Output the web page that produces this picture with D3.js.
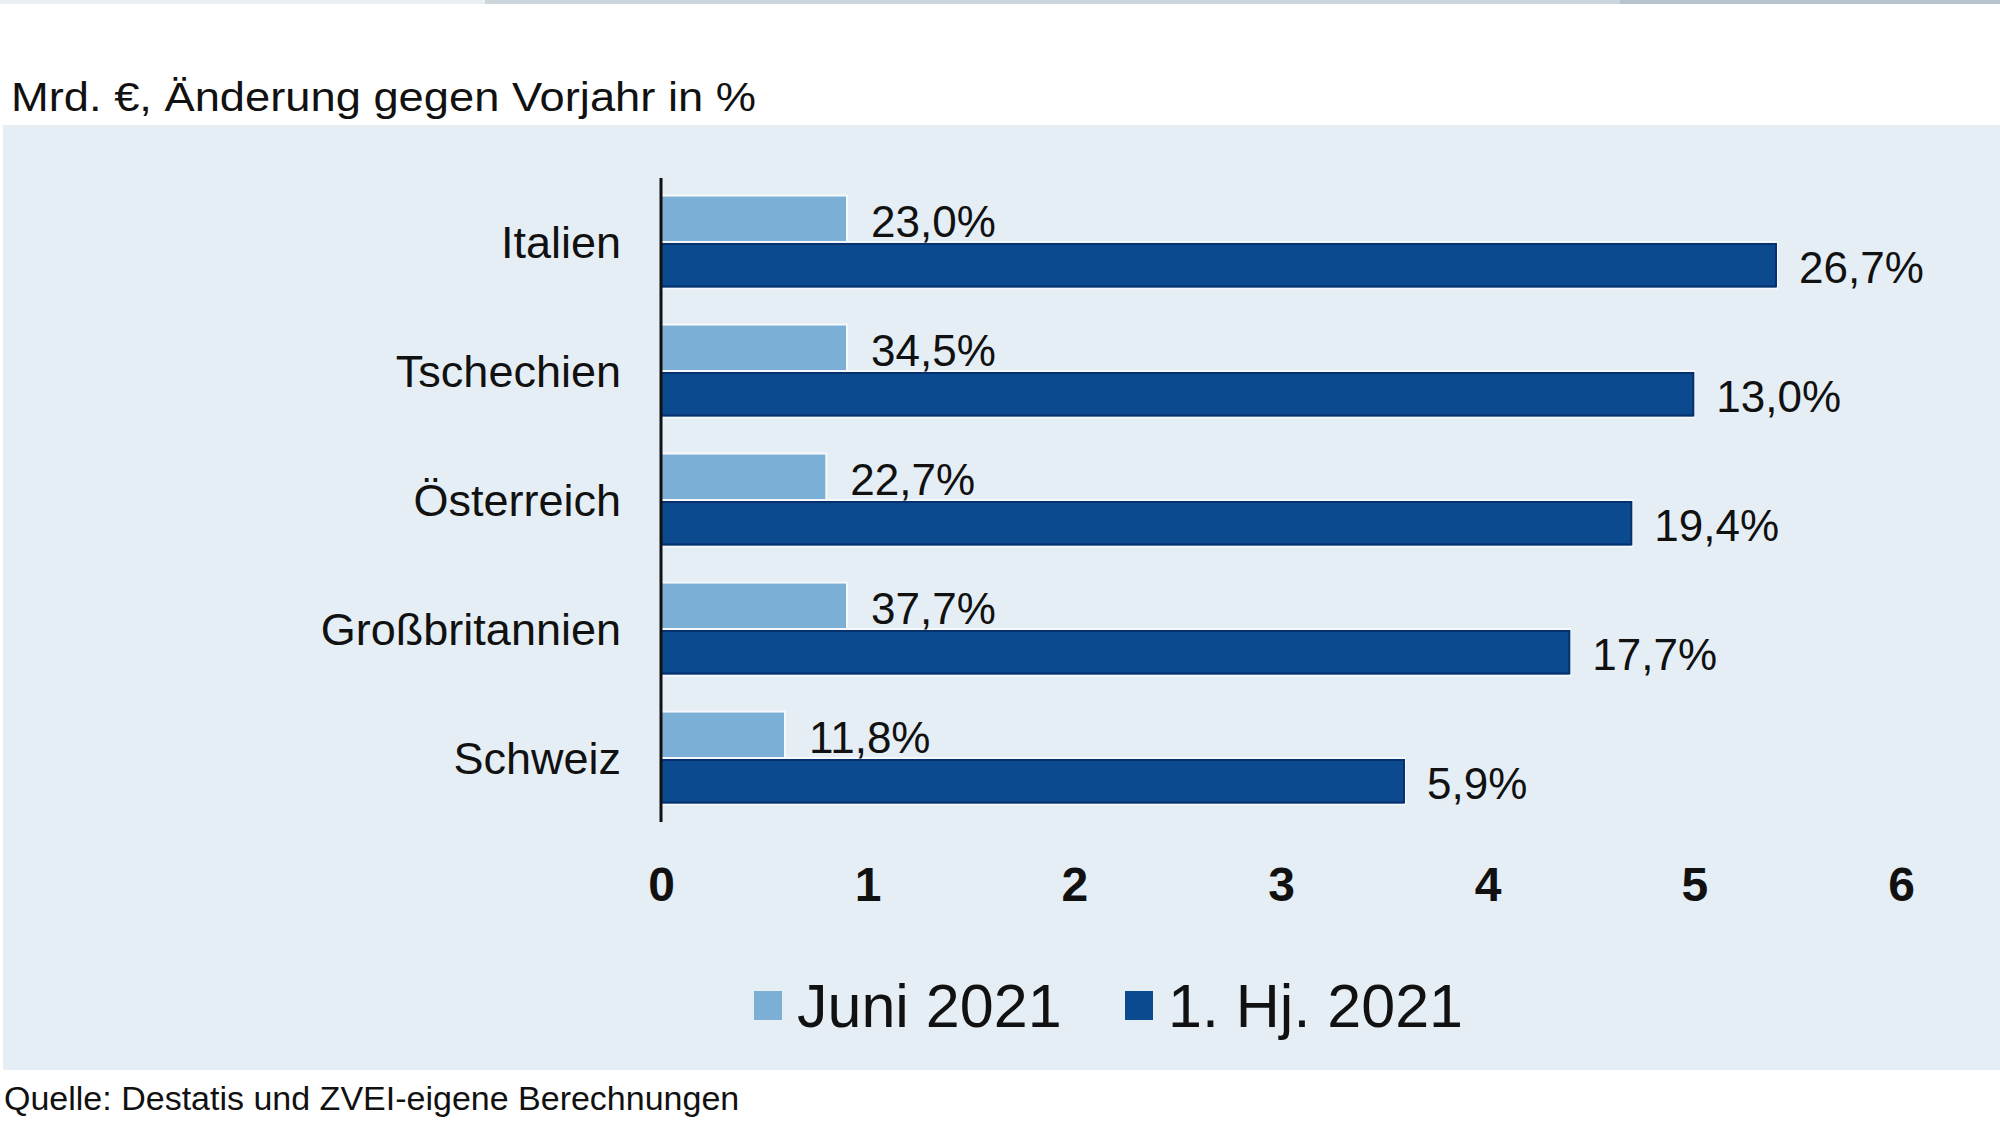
<!DOCTYPE html>
<html>
<head>
<meta charset="utf-8">
<script src="https://cdn.jsdelivr.net/npm/d3@7"></script>
<style>
  html, body { margin: 0; padding: 0; background: #fff; }
  svg { display: block; font-family: "Liberation Sans", Arial, sans-serif; }
</style>
</head>
<body>
<div id="chart"></div>
<script>
let categories = ["Italien", "Tschechien", "Österreich", "Großbritannien", "Schweiz"];
let juni = [0.9, 0.9, 0.8, 0.9, 0.6];          // Mrd. €, Juni 2021
let halbjahr = [5.4, 5.0, 4.7, 4.4, 3.6];      // Mrd. €, 1. Hj. 2021
let juniPct = ["23,0%", "34,5%", "22,7%", "37,7%", "11,8%"];
let halbjahrPct = ["26,7%", "13,0%", "19,4%", "17,7%", "5,9%"];
let xTicks = [0, 1, 2, 3, 4, 5, 6];
let seriesNames = ["Juni 2021", "1. Hj. 2021"];
let seriesColors = ["#7cafd6", "#0b4a8e"];

let width = 2000;
let height = 1125;

let svg = d3.select("#chart").append("svg")
  .attr("width", width)
  .attr("height", height);

// thin strip at the very top
svg.append("rect").attr("x", 0).attr("y", 0).attr("width", 485).attr("height", 4).attr("fill", "#eceff1");
svg.append("rect").attr("x", 485).attr("y", 0).attr("width", 1135).attr("height", 4).attr("fill", "#cdd5dc");
svg.append("rect").attr("x", 1620).attr("y", 0).attr("width", 380).attr("height", 4).attr("fill", "#b6c4cf");

// title
svg.append("text")
  .attr("x", 11)
  .attr("y", 111)
  .attr("font-size", 40)
  .attr("textLength", 745)
  .attr("lengthAdjust", "spacingAndGlyphs")
  .attr("fill", "#111")
  .text("Mrd. €, Änderung gegen Vorjahr in %");

// panel
svg.append("rect")
  .attr("x", 3)
  .attr("y", 125)
  .attr("width", width - 3)
  .attr("height", 945)
  .attr("fill", "#e5eef5");

let x = d3.scaleLinear().domain([0, 6]).range([661, 1901]);

let y = d3.scaleBand()
  .domain(categories)
  .range([178, 822])
  .paddingInner(0.28)
  .paddingOuter(0.136);

let half = y.bandwidth() / 2;

let rows = categories.map((c, i) => ({
  name: c,
  juni: juni[i],
  hj: halbjahr[i],
  juniPct: juniPct[i],
  hjPct: halbjahrPct[i]
}));

let g = svg.selectAll("g.row")
  .data(rows)
  .enter()
  .append("g")
  .attr("class", "row")
  .attr("transform", d => `translate(0,${y(d.name)})`);

// light bars
g.append("rect")
  .attr("x", x(0))
  .attr("y", 0)
  .attr("width", d => x(d.juni) - x(0))
  .attr("height", half)
  .attr("fill", seriesColors[0])
  .attr("stroke", "#f5f9fc")
  .attr("stroke-width", 2);

// dark bars
g.append("rect")
  .attr("x", x(0))
  .attr("y", half)
  .attr("width", d => x(d.hj) - x(0))
  .attr("height", half)
  .attr("fill", seriesColors[1])
  .attr("stroke", "#f5f9fc")
  .attr("stroke-width", 2);

g.append("rect")
  .attr("x", x(0))
  .attr("y", half + 2)
  .attr("width", d => x(d.hj) - x(0) - 1)
  .attr("height", half - 4)
  .attr("fill", "none")
  .attr("stroke", "#07306e")
  .attr("stroke-width", 2);

// value labels
g.append("text")
  .attr("x", d => x(d.juni) + 24)
  .attr("y", half - 5)
  .attr("font-size", 44)
  .attr("fill", "#111")
  .text(d => d.juniPct);

g.append("text")
  .attr("x", d => x(d.hj) + 22)
  .attr("y", 2 * half - 5)
  .attr("font-size", 44)
  .attr("fill", "#111")
  .text(d => d.hjPct);

// category labels
g.append("text")
  .attr("x", 621)
  .attr("y", half)
  .attr("dy", "0.36em")
  .attr("text-anchor", "end")
  .attr("font-size", 45)
  .attr("fill", "#111")
  .text(d => d.name);

// y axis line
svg.append("line")
  .attr("x1", x(0))
  .attr("x2", x(0))
  .attr("y1", 178)
  .attr("y2", 822)
  .attr("stroke", "#111")
  .attr("stroke-width", 3);

// x axis labels
let xAxis = svg.append("g")
  .attr("transform", "translate(0,822)")
  .call(d3.axisBottom(x).tickValues(xTicks).tickSize(0).tickPadding(45).tickFormat(d3.format("d")));

xAxis.select(".domain").remove();
xAxis.selectAll("text")
  .attr("font-family", "\"Liberation Sans\", Arial, sans-serif")
  .attr("font-size", 48)
  .attr("font-weight", "bold")
  .attr("fill", "#111");

// legend
let legendX = [754, 1125];
let legend = svg.selectAll("g.legend")
  .data(seriesNames)
  .enter()
  .append("g")
  .attr("class", "legend")
  .attr("transform", (d, i) => `translate(${legendX[i]},0)`);

legend.append("rect")
  .attr("x", 0)
  .attr("y", 991)
  .attr("width", 28)
  .attr("height", 29)
  .attr("fill", (d, i) => seriesColors[i]);

legend.append("text")
  .attr("x", 43)
  .attr("y", 1027)
  .attr("font-size", 61)
  .attr("fill", "#111")
  .text(d => d);

// source
svg.append("text")
  .attr("x", 4)
  .attr("y", 1110)
  .attr("font-size", 34)
  .attr("fill", "#111")
  .text("Quelle: Destatis und ZVEI-eigene Berechnungen");
</script>
</body>
</html>
